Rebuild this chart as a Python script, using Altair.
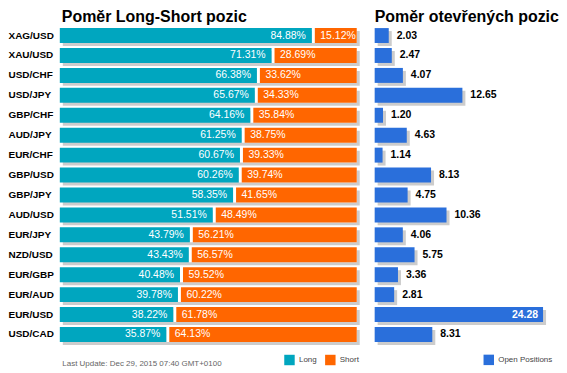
import altair as alt
import pandas as pd

pairs = ["XAG/USD", "XAU/USD", "USD/CHF", "USD/JPY", "GBP/CHF", "AUD/JPY", "EUR/CHF", "GBP/USD",
         "GBP/JPY", "AUD/USD", "EUR/JPY", "NZD/USD", "EUR/GBP", "EUR/AUD", "EUR/USD", "USD/CAD"]
long_pct = [84.88, 71.31, 66.38, 65.67, 64.16, 61.25, 60.67, 60.26, 58.35, 51.51, 43.79, 43.43, 40.48, 39.78, 38.22, 35.87]
short_pct = [15.12, 28.69, 33.62, 34.33, 35.84, 38.75, 39.33, 39.74, 41.65, 48.49, 56.21, 56.57, 59.52, 60.22, 61.78, 64.13]
open_pos = [2.03, 2.47, 4.07, 12.65, 1.20, 4.63, 1.14, 8.13, 4.75, 10.36, 4.06, 5.75, 3.36, 2.81, 24.28, 8.31]

title_left = "Poměr Long-Short pozic"
title_right = "Poměr otevřených pozic"
update_text = "Last Update: Dec 29, 2015 07:40 GMT+0100"

TEAL = "#00a6bf"
ORANGE = "#ff6600"
BLUE = "#2a6fdb"
SHADOW = "#cccccc"
FONT = "Liberation Sans"

df = pd.DataFrame({"pair": pairs, "long": long_pct, "short": short_pct, "open": open_pos})
df["zero"] = 0.0
df["total"] = 100.0
df["kL"] = "Long"
df["kS"] = "Short"
df["kO"] = "Open Positions"
df["long_lbl"] = [f"{v:.2f}%" for v in long_pct]
df["short_lbl"] = [f"{v:.2f}%" for v in short_pct]
df["open_lbl"] = [f"{v:.2f}" for v in open_pos]

H = 320
yscale = alt.Scale(paddingInner=0.25, paddingOuter=0.125)
y_left = alt.Y("pair:N", sort=pairs, scale=yscale, title=None,
               axis=alt.Axis(labelAlign="left", labelPadding=52, ticks=False, domain=False, grid=False,
                             labelFont=FONT, labelFontSize=10, labelFontWeight="bold", labelColor="#000"))
y_right = alt.Y("pair:N", sort=pairs, scale=yscale, axis=None)

xs_left = alt.Scale(domain=[0, 100], nice=False, zero=True)
x_axis_left = alt.Axis(labels=False, ticks=False, domain=False, grid=False, title=update_text,
                       titleX=2, titleY=19, titleAlign="left", titleBaseline="middle",
                       titleFont=FONT, titleFontSize=8, titleFontWeight="normal", titleColor="#666")

color_lr = alt.Scale(domain=["Long", "Short"], range=[TEAL, ORANGE])
leg_lr = alt.Legend(title=None, orient="none", legendX=225, legendY=330, direction="horizontal",
                    symbolType="square", symbolSize=110, symbolStrokeWidth=0, labelFont=FONT,
                    labelFontSize=8, labelColor="#444", columnPadding=8, labelOffset=4, padding=0)

base = alt.Chart(df)

l_shadow = base.mark_bar(color=SHADOW, xOffset=3, x2Offset=3, yOffset=3).encode(
    x=alt.X("zero:Q", scale=xs_left, axis=x_axis_left), x2="total:Q", y=y_left)
l_white = base.mark_bar(color="white").encode(x="long:Q", x2="total:Q", y=y_left)
l_long = base.mark_bar().encode(
    x="zero:Q", x2="long:Q", y=y_left,
    color=alt.Color("kL:N", scale=color_lr, legend=leg_lr))
l_short = base.mark_bar(xOffset=3).encode(
    x="long:Q", x2="total:Q", y=y_left,
    color=alt.Color("kS:N", scale=color_lr, legend=leg_lr))
l_txt_long = base.mark_text(align="right", dx=-6, color="white", font=FONT, fontSize=10.5).encode(
    x="long:Q", y=y_left, text="long_lbl:N")
l_txt_short = base.mark_text(align="left", dx=8.5, color="white", font=FONT, fontSize=10.5).encode(
    x="long:Q", y=y_left, text="short_lbl:N")

left = alt.layer(l_shadow, l_white, l_long, l_short, l_txt_long, l_txt_short).properties(
    width=298, height=H,
    title=alt.TitleParams(title_left, anchor="start", frame="group", font=FONT, fontSize=16,
                          fontWeight="bold", color="#000", offset=1, dx=2))

xs_right = alt.Scale(domain=[0, 25], nice=False, zero=True)
color_o = alt.Scale(domain=["Open Positions"], range=[BLUE])
leg_o = alt.Legend(title=None, orient="none", legendX=109, legendY=330, direction="horizontal",
                   symbolType="square", symbolSize=110, symbolStrokeWidth=0, labelFont=FONT,
                   labelFontSize=8, labelColor="#444", labelOffset=4, padding=0)

r_shadow = base.mark_bar(color=SHADOW, xOffset=3, x2Offset=3, yOffset=3).encode(
    x=alt.X("zero:Q", scale=xs_right, axis=None), x2="open:Q", y=y_right)
r_bar = base.mark_bar().encode(
    x="zero:Q", x2="open:Q", y=y_right,
    color=alt.Color("kO:N", scale=color_o, legend=leg_o))
r_txt_out = base.transform_filter("datum.open < 20").mark_text(
    align="left", dx=8, color="#000", font=FONT, fontSize=10.5, fontWeight="bold").encode(
    x="open:Q", y=y_right, text="open_lbl:N")
r_txt_in = base.transform_filter("datum.open >= 20").mark_text(
    align="right", dx=-5, color="white", font=FONT, fontSize=10.5, fontWeight="bold").encode(
    x="open:Q", y=y_right, text="open_lbl:N")

right = alt.layer(r_shadow, r_bar, r_txt_out, r_txt_in).properties(
    width=174, height=H,
    title=alt.TitleParams(title_right, anchor="start", frame="group", font=FONT, fontSize=16,
                          fontWeight="bold", color="#000", offset=1))

chart = alt.hconcat(left, right, spacing=15).resolve_scale(
    color="independent").resolve_legend(color="independent").configure_view(
    stroke=None).properties(padding=0, background="white")

chart.save("out.html", embed_options={"renderer": "svg", "actions": False})
